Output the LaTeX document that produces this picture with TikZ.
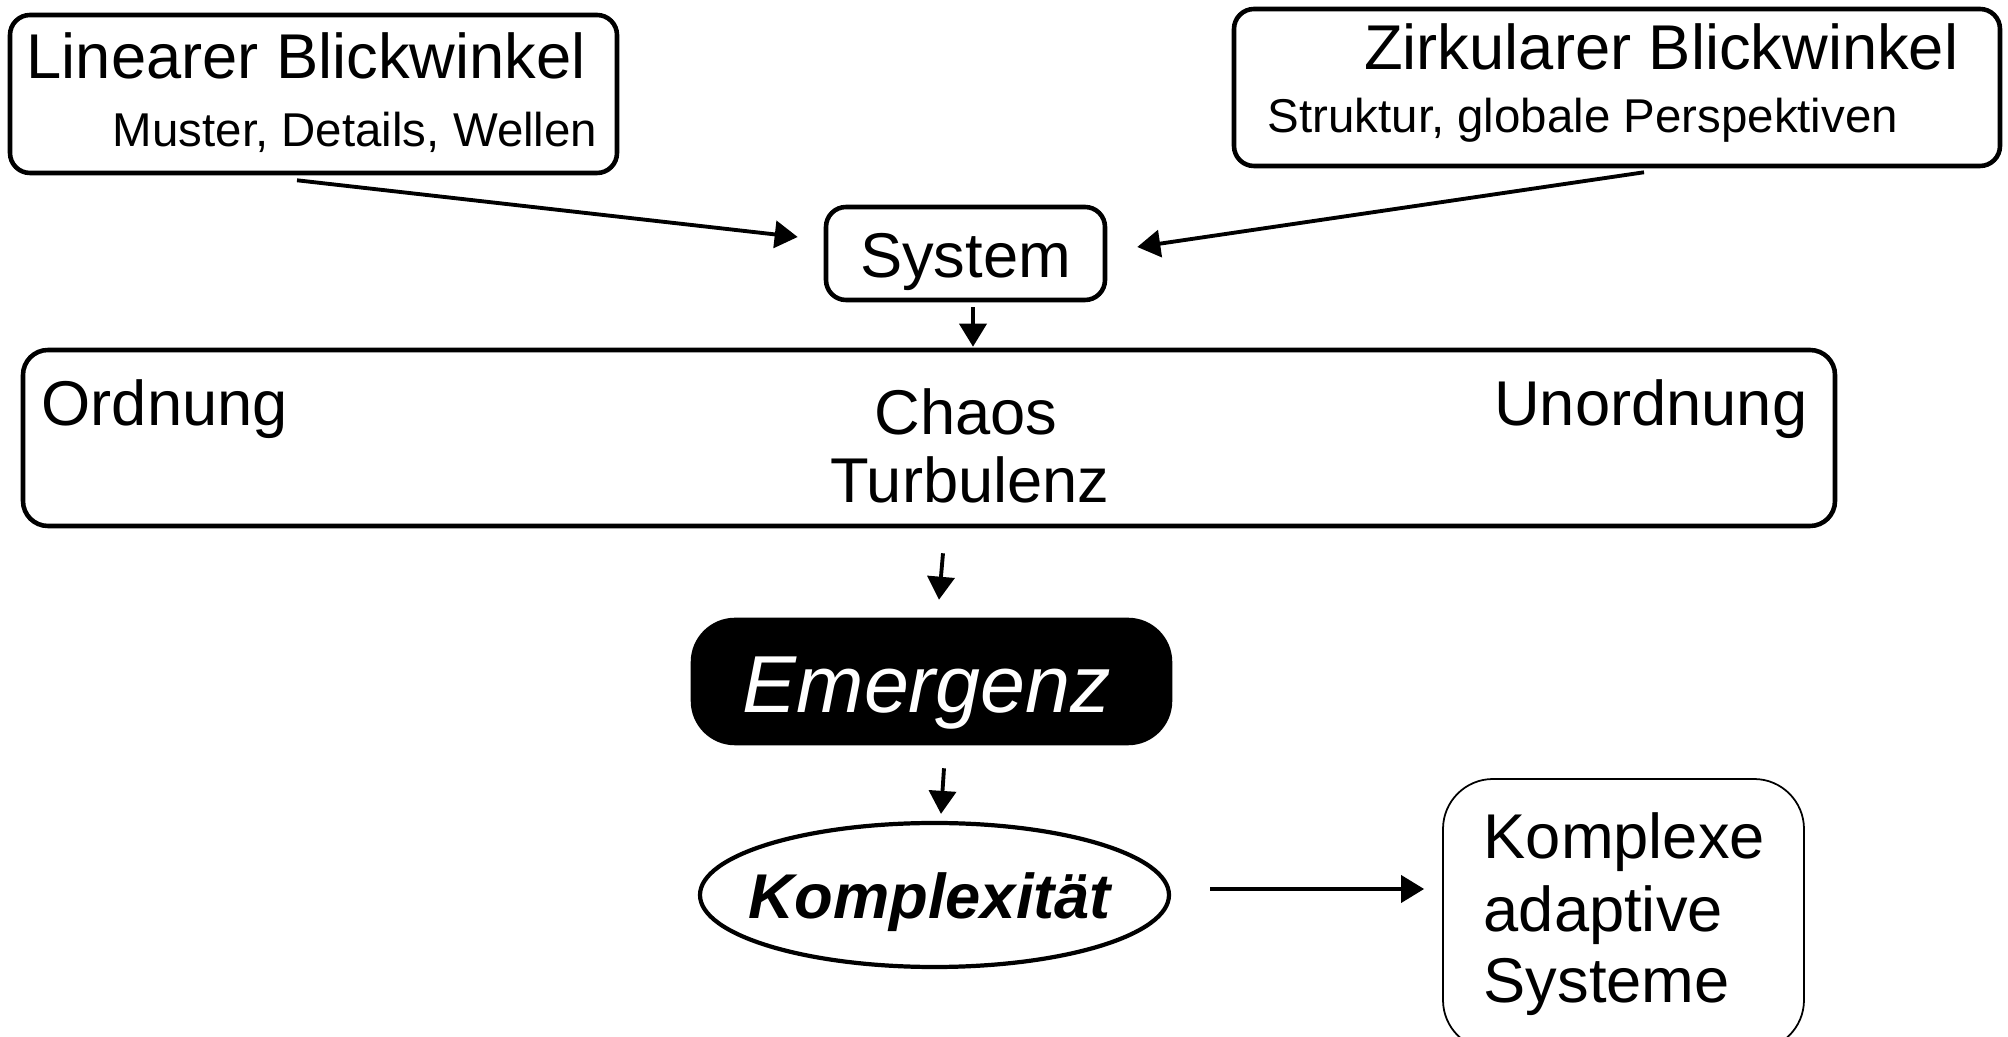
\documentclass[tikz,border=0pt]{standalone}
\usepackage{fontspec}
\setmainfont{Liberation Sans}
\usetikzlibrary{arrows.meta,shapes.geometric,calc}

\tikzset{
  box/.style={draw, line width=1.3pt, rounded corners=0.2cm, inner sep=0pt},
  arr/.style={line width=1.1pt, -{Triangle[length=0.23cm,width=0.27cm]}},
  bigtxt/.style={font=\fontsize{18}{20.5}\selectfont, inner sep=0pt},
  smalltxt/.style={font=\fontsize{13.5}{16}\selectfont, inner sep=0pt},
}

\begin{document}
\begin{tikzpicture}
  \useasboundingbox (0,0) rectangle (20.08,-10.37);

  % two views on top
  \node[box, minimum width=6.07cm, minimum height=1.58cm] (lin) at (3.135,-0.94) {};
  \node[bigtxt, anchor=base west] (lintitle) at (0.26,-0.79) {Linearer Blickwinkel};
  \node[smalltxt, anchor=base east] (linsub) at (5.98,-1.47) {Muster, Details, Wellen};

  \node[box, minimum width=7.66cm, minimum height=1.57cm] (zirk) at (16.17,-0.875) {};
  \node[bigtxt, anchor=base east] (zirktitle) at (19.59,-0.70) {Zirkularer Blickwinkel};
  \node[smalltxt, anchor=base west] (zirksub) at (12.67,-1.33) {Struktur, globale Perspektiven};

  % system
  \node[box, minimum width=2.79cm, minimum height=0.93cm] (sys) at (9.655,-2.535) {};
  \node[bigtxt, anchor=base] (systxt) at (9.655,-2.78) {System};

  % range order -- disorder
  \node[box, rounded corners=0.25cm, minimum width=18.12cm, minimum height=1.76cm] (big) at (9.29,-4.38) {};
  \node[bigtxt, anchor=base west] (ord) at (0.41,-4.26) {Ordnung};
  \node[bigtxt, anchor=base east] (unord) at (18.08,-4.26) {Unordnung};
  \node[bigtxt, anchor=base] (chaos) at (9.66,-4.35) {Chaos};
  \node[bigtxt, anchor=base] (turb) at (9.70,-5.03) {Turbulenz};

  % emergence
  \node[box, fill=black, rounded corners=0.42cm, minimum width=4.77cm, minimum height=1.23cm] (emer) at (9.315,-6.815) {};
  \node[inner sep=0pt, text=white, font=\fontsize{23}{26}\selectfont\itshape, anchor=base] (emertxt) at (9.27,-7.13) {Emergenz};

  % complexity
  \node[draw, ellipse, line width=1.2pt, inner sep=0pt, minimum width=4.69cm, minimum height=1.44cm] (kompl) at (9.345,-8.95) {};
  \node[bigtxt, font=\fontsize{18}{20.5}\selectfont\bfseries\itshape, anchor=base] (kompltxt) at (9.30,-9.18) {Komplexität};

  % complex adaptive systems (runs off the page)
  \node[draw, line width=0.5pt, rounded corners=0.5cm, inner sep=0pt, minimum width=3.61cm, minimum height=2.71cm] (cas) at (16.235,-9.145) {};
  \node[bigtxt, anchor=base west] (casa) at (14.83,-8.58) {Komplexe};
  \node[bigtxt, anchor=base west] (casb) at (14.83,-9.31) {adaptive};
  \node[bigtxt, anchor=base west] (casc) at (14.83,-10.03) {Systeme};

  % arrows
  \draw[arr] ($(lin.south)+(-0.165,-0.05)$) -- ($(sys.west)+(-0.26,0.165)$);
  \draw[arr] ($(zirk.south)+(0.27,-0.04)$) -- ($(sys.east)+(0.30,0.065)$);
  \draw[arr] ($(sys.south)+(0.075,-0.05)$) -- ($(sys.south |- big.north)+(0.075,0.01)$);
  \draw[arr] ($(big.south)+(0.14,-0.25)$) -- ($(emer.north)+(0.075,0.18)$);
  \draw[arr] ($(emer.south)+(0.125,-0.23)$) -- ($(kompl.north)+(0.065,0.07)$);
  \draw[arr] ($(kompl.east)+(0.39,0.06)$) -- ($(kompl.east -| cas.west)+(-0.18,0.06)$);
\end{tikzpicture}
\end{document}
